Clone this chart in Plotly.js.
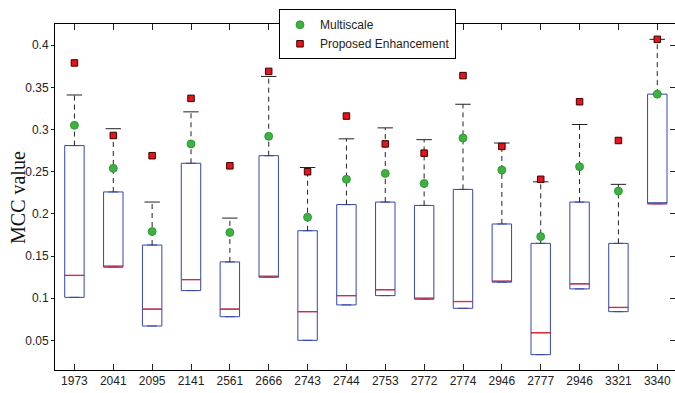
<!DOCTYPE html>
<html>
<head>
<meta charset="utf-8">
<script src="https://cdn.plot.ly/plotly-3.0.1.min.js"></script>
<style>html,body{margin:0;padding:0;overflow:hidden;background:#fff;}</style>
</head>
<body>
<div id="chart" style="width:675px;height:393px;"></div>
<script>
// Data
const labels = ['1973','2041','2095','2141','2561','2666','2743','2744','2753','2772','2774','2946','2777','2946','3321','3340'];
const q1 =        [0.101,0.137,0.067,0.109,0.078,0.125,0.050,0.092,0.103,0.099,0.088,0.119,0.033,0.111,0.084,0.212];
const medians =   [0.127,0.137,0.087,0.122,0.087,0.125,0.084,0.103,0.110,0.099,0.096,0.120,0.059,0.117,0.089,0.212];
const q3 =        [0.281,0.226,0.163,0.260,0.143,0.269,0.180,0.211,0.214,0.210,0.229,0.188,0.165,0.214,0.165,0.342];
const whiskerTop =[0.341,0.301,0.214,0.321,0.195,0.363,0.255,0.289,0.302,0.288,0.330,0.284,0.238,0.306,0.235,0.407];
const multiscale =[0.305,0.254,0.179,0.283,0.178,0.292,0.196,0.241,0.248,0.236,0.290,0.252,0.173,0.256,0.227,0.342];
const proposed =  [0.379,0.293,0.269,0.337,0.257,0.369,0.250,0.316,0.283,0.272,0.364,0.280,0.241,0.333,0.287,0.407];
const yTickVals = [0.05,0.1,0.15,0.2,0.25,0.3,0.35,0.4];
const yTickText = ['0.05','0.1','0.15','0.2','0.25','0.3','0.35','0.4'];
const yTitle = 'MCC value';

const idx = labels.map((_, i) => i);
const boxW = 0.5;

const traces = [];
// boxes
traces.push({
  type: 'box', x: idx, q1: q1, median: medians, q3: q3,
  lowerfence: q1, upperfence: q3, width: boxW,
  line: {color: '#3446a8', width: 1}, fillcolor: 'rgba(255,255,255,0)',
  showlegend: false, hoverinfo: 'skip', boxpoints: false
});
// dashed whiskers
const wx = [], wy = [];
idx.forEach(i => { wx.push(i, i, null); wy.push(q3[i], whiskerTop[i], null); });
traces.push({type:'scatter', mode:'lines', x: wx, y: wy,
  line:{color:'#222', width:1, dash:'5px,4px'}, showlegend:false, hoverinfo:'skip'});
// whisker caps
traces.push({type:'scatter', mode:'markers', x: idx, y: whiskerTop,
  marker:{symbol:'line-ew', size:11, line:{color:'#222', width:1}}, showlegend:false, hoverinfo:'skip'});
// median lines
const mx = [], my = [];
idx.forEach(i => { mx.push(i - boxW/2, i + boxW/2, null); my.push(medians[i], medians[i], null); });
traces.push({type:'scatter', mode:'lines', x: mx, y: my,
  line:{color:'#e8262a', width:1.3}, showlegend:false, hoverinfo:'skip'});
// markers
traces.push({type:'scatter', mode:'markers', name:'Multiscale', x: idx, y: multiscale,
  marker:{symbol:'circle', size:8, color:'#3db33f', line:{color:'#2a8a2e', width:0.8}}});
traces.push({type:'scatter', mode:'markers', name:'Proposed Enhancement', x: idx, y: proposed,
  marker:{symbol:'square', size:6.5, color:'#e8141c', line:{color:'#3a0000', width:1}}});
// invisible trace for right-side ticks
traces.push({type:'scatter', mode:'markers', x:[0], y:[0.2], yaxis:'y2',
  marker:{opacity:0}, showlegend:false, hoverinfo:'skip'});

const yRange = [0.0148, 0.4252];
const layout = {
  width: 675, height: 393,
  margin: {l:55, r:0, t:24, b:23, pad:0},
  paper_bgcolor:'#fff', plot_bgcolor:'#fff',
  font: {family:'Liberation Sans, Arial, sans-serif', size:12, color:'#222'},
  showlegend: true,
  legend: {x:0.3613, y:1.0425, xanchor:'left', yanchor:'top',
    bgcolor:'#fff', bordercolor:'#000', borderwidth:1,
    font:{family:'Liberation Sans, Arial, sans-serif', size:12, color:'#222'}},
  xaxis: {range:[-0.5, 15.456], tickvals: idx, ticktext: labels,
    ticks:'inside', ticklen:6, tickcolor:'#222', mirror:'ticks',
    showline:true, linecolor:'#000', linewidth:1, showgrid:false, zeroline:false,
    tickfont:{size:12, color:'#222'}},
  yaxis: {range:yRange, tickvals:yTickVals, ticktext:yTickText,
    ticks:'outside', ticklen:3, tickcolor:'#222',
    showline:true, linecolor:'#000', linewidth:1, showgrid:false, zeroline:false,
    tickfont:{size:12, color:'#222'}},
  yaxis2: {overlaying:'y', side:'right', range:yRange, tickvals:yTickVals,
    showticklabels:false, ticks:'inside', ticklen:5, tickcolor:'#222',
    showline:false, showgrid:false, zeroline:false},
  annotations: [{text: yTitle, textangle:-90, xref:'paper', yref:'paper',
    x:-0.0597, y:0.5, xanchor:'center', yanchor:'middle', showarrow:false,
    font:{family:'Liberation Serif, Times New Roman, serif', size:20, color:'#111'}}],
  hovermode:false
};
Plotly.newPlot('chart', traces, layout, {staticPlot:true, displayModeBar:false});
</script>
</body>
</html>
